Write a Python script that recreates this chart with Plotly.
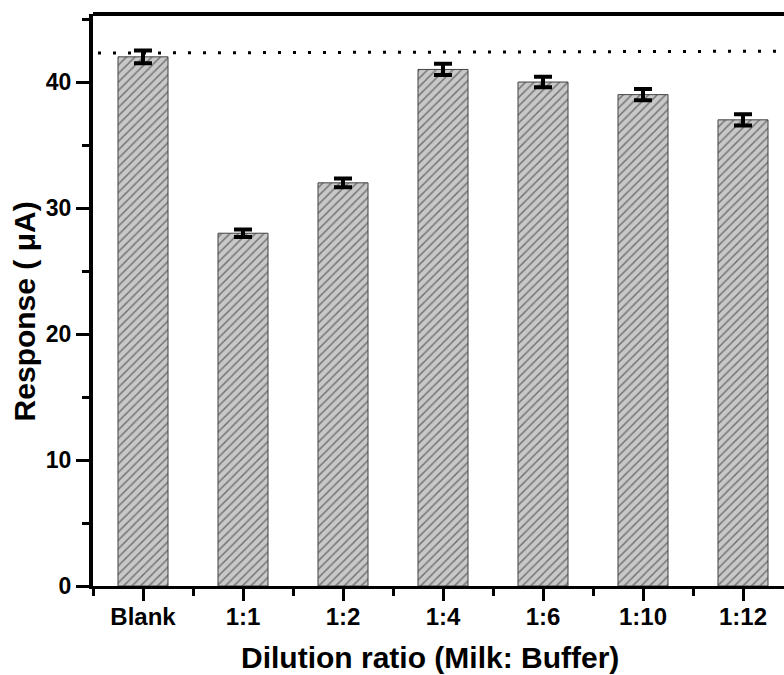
import plotly.graph_objects as go

categories = ["Blank", "1:1", "1:2", "1:4", "1:6", "1:10", "1:12"]
responses = [42.0, 28.0, 32.0, 41.0, 40.0, 39.0, 37.0]
errors = [0.5, 0.3, 0.35, 0.45, 0.42, 0.44, 0.44]
ref_x = [-0.45, 6.41]
ref_y = [42.3, 42.45]

positions = list(range(len(categories)))
FONT = "Liberation Sans"

fig = go.Figure()
fig.add_trace(go.Bar(
    x=positions, y=responses, width=0.5,
    marker=dict(color="#c8c8c8",
                line=dict(color="#404040", width=1),
                pattern=dict(shape="/", fgcolor="#202020", bgcolor="#c8c8c8",
                             size=6, solidity=0.25)),
    error_y=dict(type="data", array=errors, visible=True,
                 color="black", thickness=4, width=9),
    showlegend=False,
))
fig.add_trace(go.Scatter(
    x=ref_x, y=ref_y, mode="lines",
    line=dict(color="black", width=3, dash="3px,12px"),
    showlegend=False, hoverinfo="skip",
))

fig.update_layout(
    width=784, height=675,
    margin=dict(l=93, r=0, t=14, b=89),
    plot_bgcolor="white", paper_bgcolor="white",
    font=dict(family=FONT, size=24, color="black", weight="bold"),
    bargap=0.5,
    xaxis=dict(
        range=[-0.5, 6.41], tickmode="array", tickvals=positions, ticktext=categories,
        showgrid=False, zeroline=False,
        showline=True, linecolor="black", linewidth=3,
        ticks="outside", ticklen=12, tickwidth=3, tickcolor="black",
        ticklabelstandoff=-5,
        minor=dict(tick0=-0.5, dtick=1, ticks="outside", ticklen=7, tickwidth=3, tickcolor="black"),
        tickfont=dict(family=FONT, size=24, weight="bold"),
    ),
    yaxis=dict(
        range=[0, 45.4], tickmode="linear", tick0=0, dtick=10,
        showgrid=False, zeroline=False,
        showline=True, linecolor="black", linewidth=4,
        ticks="outside", ticklen=13, tickwidth=3, tickcolor="black",
        minor=dict(dtick=5, ticks="outside", ticklen=7, tickwidth=3, tickcolor="black"),
        tickfont=dict(family=FONT, size=23, weight="bold"),
    ),
    shapes=[dict(type="line", xref="paper", yref="paper", x0=0, x1=1, y0=1, y1=1,
                 line=dict(color="black", width=4))],
    annotations=[
        dict(text="Dilution ratio (Milk: Buffer)", xref="paper", yref="paper",
             x=0.4877, y=-0.125, xanchor="center", yanchor="middle", showarrow=False,
             font=dict(family=FONT, size=30, weight="bold")),
        dict(text="Response ( μA)", xref="paper", yref="paper",
             x=-0.0999, y=0.48, xanchor="center", yanchor="middle", showarrow=False,
             textangle=-90, font=dict(family=FONT, size=30, weight="bold")),
    ],
)

fig.write_html("out.html")
